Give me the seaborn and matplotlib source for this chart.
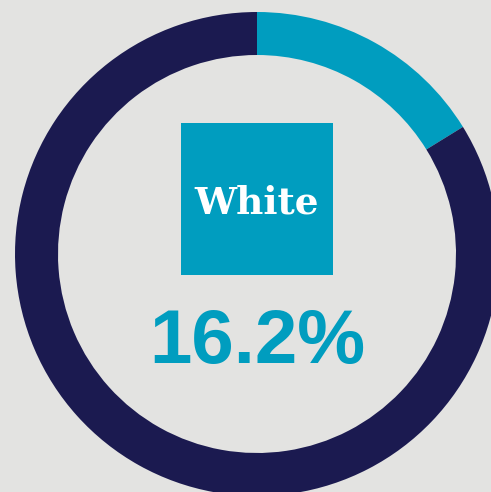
import matplotlib
matplotlib.use("Agg")
import matplotlib.pyplot as plt
import seaborn as sns

# data
labels = ["White", "Other"]
shares = [16.2, 83.8]
highlight = "White"

# colours
BG = "#e3e3e1"
TEAL = "#009dbf"
NAVY = "#1b1a50"

sns.set_theme(style="white", rc={"figure.facecolor": BG, "axes.facecolor": BG})
colors = sns.color_palette([TEAL, NAVY])

W, H = 491, 492
fig = plt.figure(figsize=(W / 100, H / 100), dpi=100)
ax = fig.add_axes([0, 0, 1, 1])

# pixel coordinates (y up); donut centre sits slightly right of middle
cx, cy, R = 257, H - 254, 242
ax.pie(shares, colors=colors, startangle=90, counterclock=False,
       center=(cx, cy), radius=R, wedgeprops=dict(width=43, linewidth=0))

ax.set_xlim(0, W)
ax.set_ylim(0, H)
ax.set_aspect("auto")
ax.axis("off")

# teal label box
box = 152
ax.add_patch(plt.Rectangle((cx - box / 2, H - 275), box, box, color=TEAL, lw=0))
ax.text(cx, H - 213, highlight, ha="center", va="baseline", color="white",
        fontsize=27, fontweight="bold", family=["DejaVu Serif"])

ax.text(cx, H - 363, f"{shares[0]:.1f}%", ha="center", va="baseline", color=TEAL,
        fontsize=55, fontweight="bold",
        family=["Liberation Sans Narrow", "Liberation Sans"])

fig.savefig("out.png", dpi=100, facecolor=BG)
